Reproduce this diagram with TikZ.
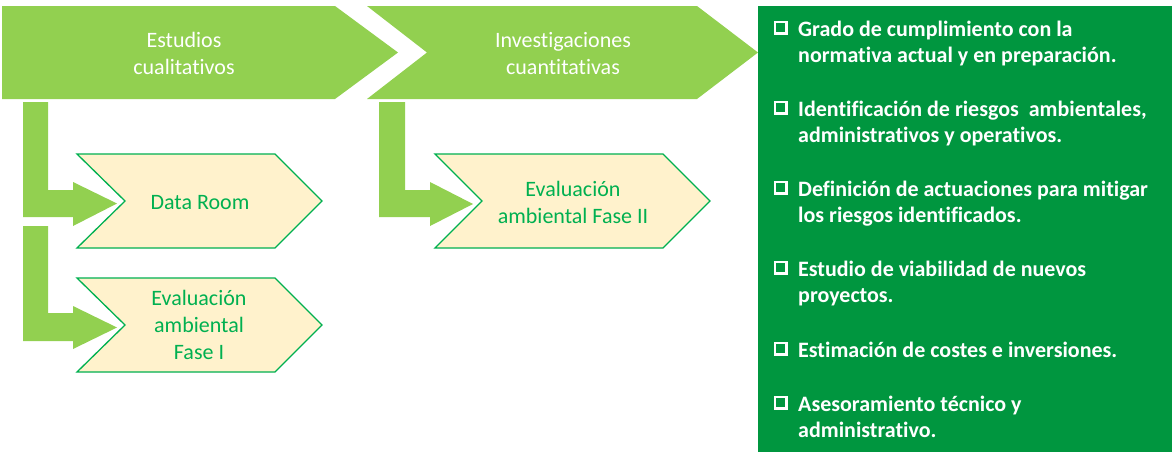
\documentclass[tikz,border=0pt]{standalone}
\usepackage{fontspec}
\setmainfont{Carlito}[Ligatures={NoCommon}]
\definecolor{lgreen}{HTML}{92D050}
\definecolor{dgreen}{HTML}{00963F}
\definecolor{tgreen}{HTML}{00B050}
\definecolor{tanfill}{HTML}{FFF2CC}
\tikzset{
  hdr/.style={font=\fontsize{22}{27}\selectfont, text=white, anchor=base, inner sep=0pt},
  chevtxt/.style={font=\fontsize{22}{27}\selectfont, text=tgreen, anchor=base, inner sep=0pt},
  itm/.style={font=\fontsize{22}{27}\selectfont\bfseries, text=white, anchor=base west, inner sep=0pt},
  band/.style={fill=lgreen},
  chev/.style={fill=tanfill, draw=tgreen, line width=1.3pt, line join=miter},
  larrow/.style={fill=lgreen},
  panel/.style={fill=dgreen},
}
\newcommand{\chkbox}[2]{%
  \fill[white] (#1,#2-15) rectangle (#1+14,#2-1);
  \fill[dgreen] (#1+1.8,#2-13.2) rectangle (#1+11.2,#2-3.8);
}
\begin{document}
\begin{tikzpicture}[x=1pt,y=-1pt]
\useasboundingbox (0,0) rectangle (1176,456);
\fill[white] (0,0) rectangle (1176,456);

% header chevrons
\fill[band] (2,6) -- (335,6) -- (398,52.5) -- (335,99) -- (2,99) -- cycle;
\fill[band] (367,6) -- (697,6) -- (758,52.5) -- (697,99) -- (367,99) -- (427,52.5) -- cycle;
\node[hdr] (h1a) at (184,47) {Estudios};
\node[hdr] (h1b) at (184,74) {cualitativos};
\node[hdr] (h2a) at (563,47) {Investigaciones};
\node[hdr] (h2b) at (563,74) {cuantitativas};

% right panel
\fill[panel] (758,6) rectangle (1172,452);

% L-shaped block arrows
\fill[larrow] (23,102) -- (48,102) -- (48,190) -- (73,190) -- (73,182) -- (117,203.5) -- (73,226) -- (73,217) -- (23,217) -- cycle;
\fill[larrow] (23,226) -- (48,226) -- (48,313) -- (73,313) -- (73,306) -- (117,327.5) -- (73,349) -- (73,341) -- (23,341) -- cycle;
\fill[larrow] (379,102) -- (405,102) -- (405,190) -- (430,190) -- (430,182) -- (473,204) -- (430,226) -- (430,217) -- (379,217) -- cycle;

% tan chevrons
\draw[chev] (77,154) -- (275,154) -- (322,201) -- (275,248) -- (77,248) -- (125,201) -- cycle;
\draw[chev] (77,278) -- (275,278) -- (322,325) -- (275,372) -- (77,372) -- (125,325) -- cycle;
\draw[chev] (435,154) -- (663,154) -- (710,201) -- (663,248) -- (435,248) -- (482,201) -- cycle;

\node[chevtxt] (dr) at (200,209) {Data Room};
\node[chevtxt] (f1a) at (199,305) {Evaluación};
\node[chevtxt] (f1b) at (199,332) {ambiental};
\node[chevtxt] (f1c) at (199,359) {Fase I};
\node[chevtxt] (f2a) at (573,196) {Evaluación};
\node[chevtxt] (f2b) at (573,223) {ambiental Fase II};

% list items
\chkbox{774}{36}
\node[itm] (i1a) at (798,36) {Grado de cumplimiento con la};
\node[itm] (i1b) at (798,62.7) {normativa actual y en preparación.};
\chkbox{774}{116}
\node[itm] (i2a) at (798,116) {Identificación de riesgos\ \ ambientales,};
\node[itm] (i2b) at (798,142.7) {administrativos y operativos.};
\chkbox{774}{196}
\node[itm] (i3a) at (798,196) {Definición de actuaciones para mitigar};
\node[itm] (i3b) at (798,222.7) {los riesgos identificados.};
\chkbox{774}{276}
\node[itm] (i4a) at (798,276) {Estudio de viabilidad de nuevos};
\node[itm] (i4b) at (798,302.7) {proyectos.};
\chkbox{774}{357}
\node[itm] (i5a) at (798,357) {Estimación de costes e inversiones.};
\chkbox{774}{411}
\node[itm] (i6a) at (798,411) {Asesoramiento técnico y};
\node[itm] (i6b) at (798,437.7) {administrativo.};
\end{tikzpicture}
\end{document}
